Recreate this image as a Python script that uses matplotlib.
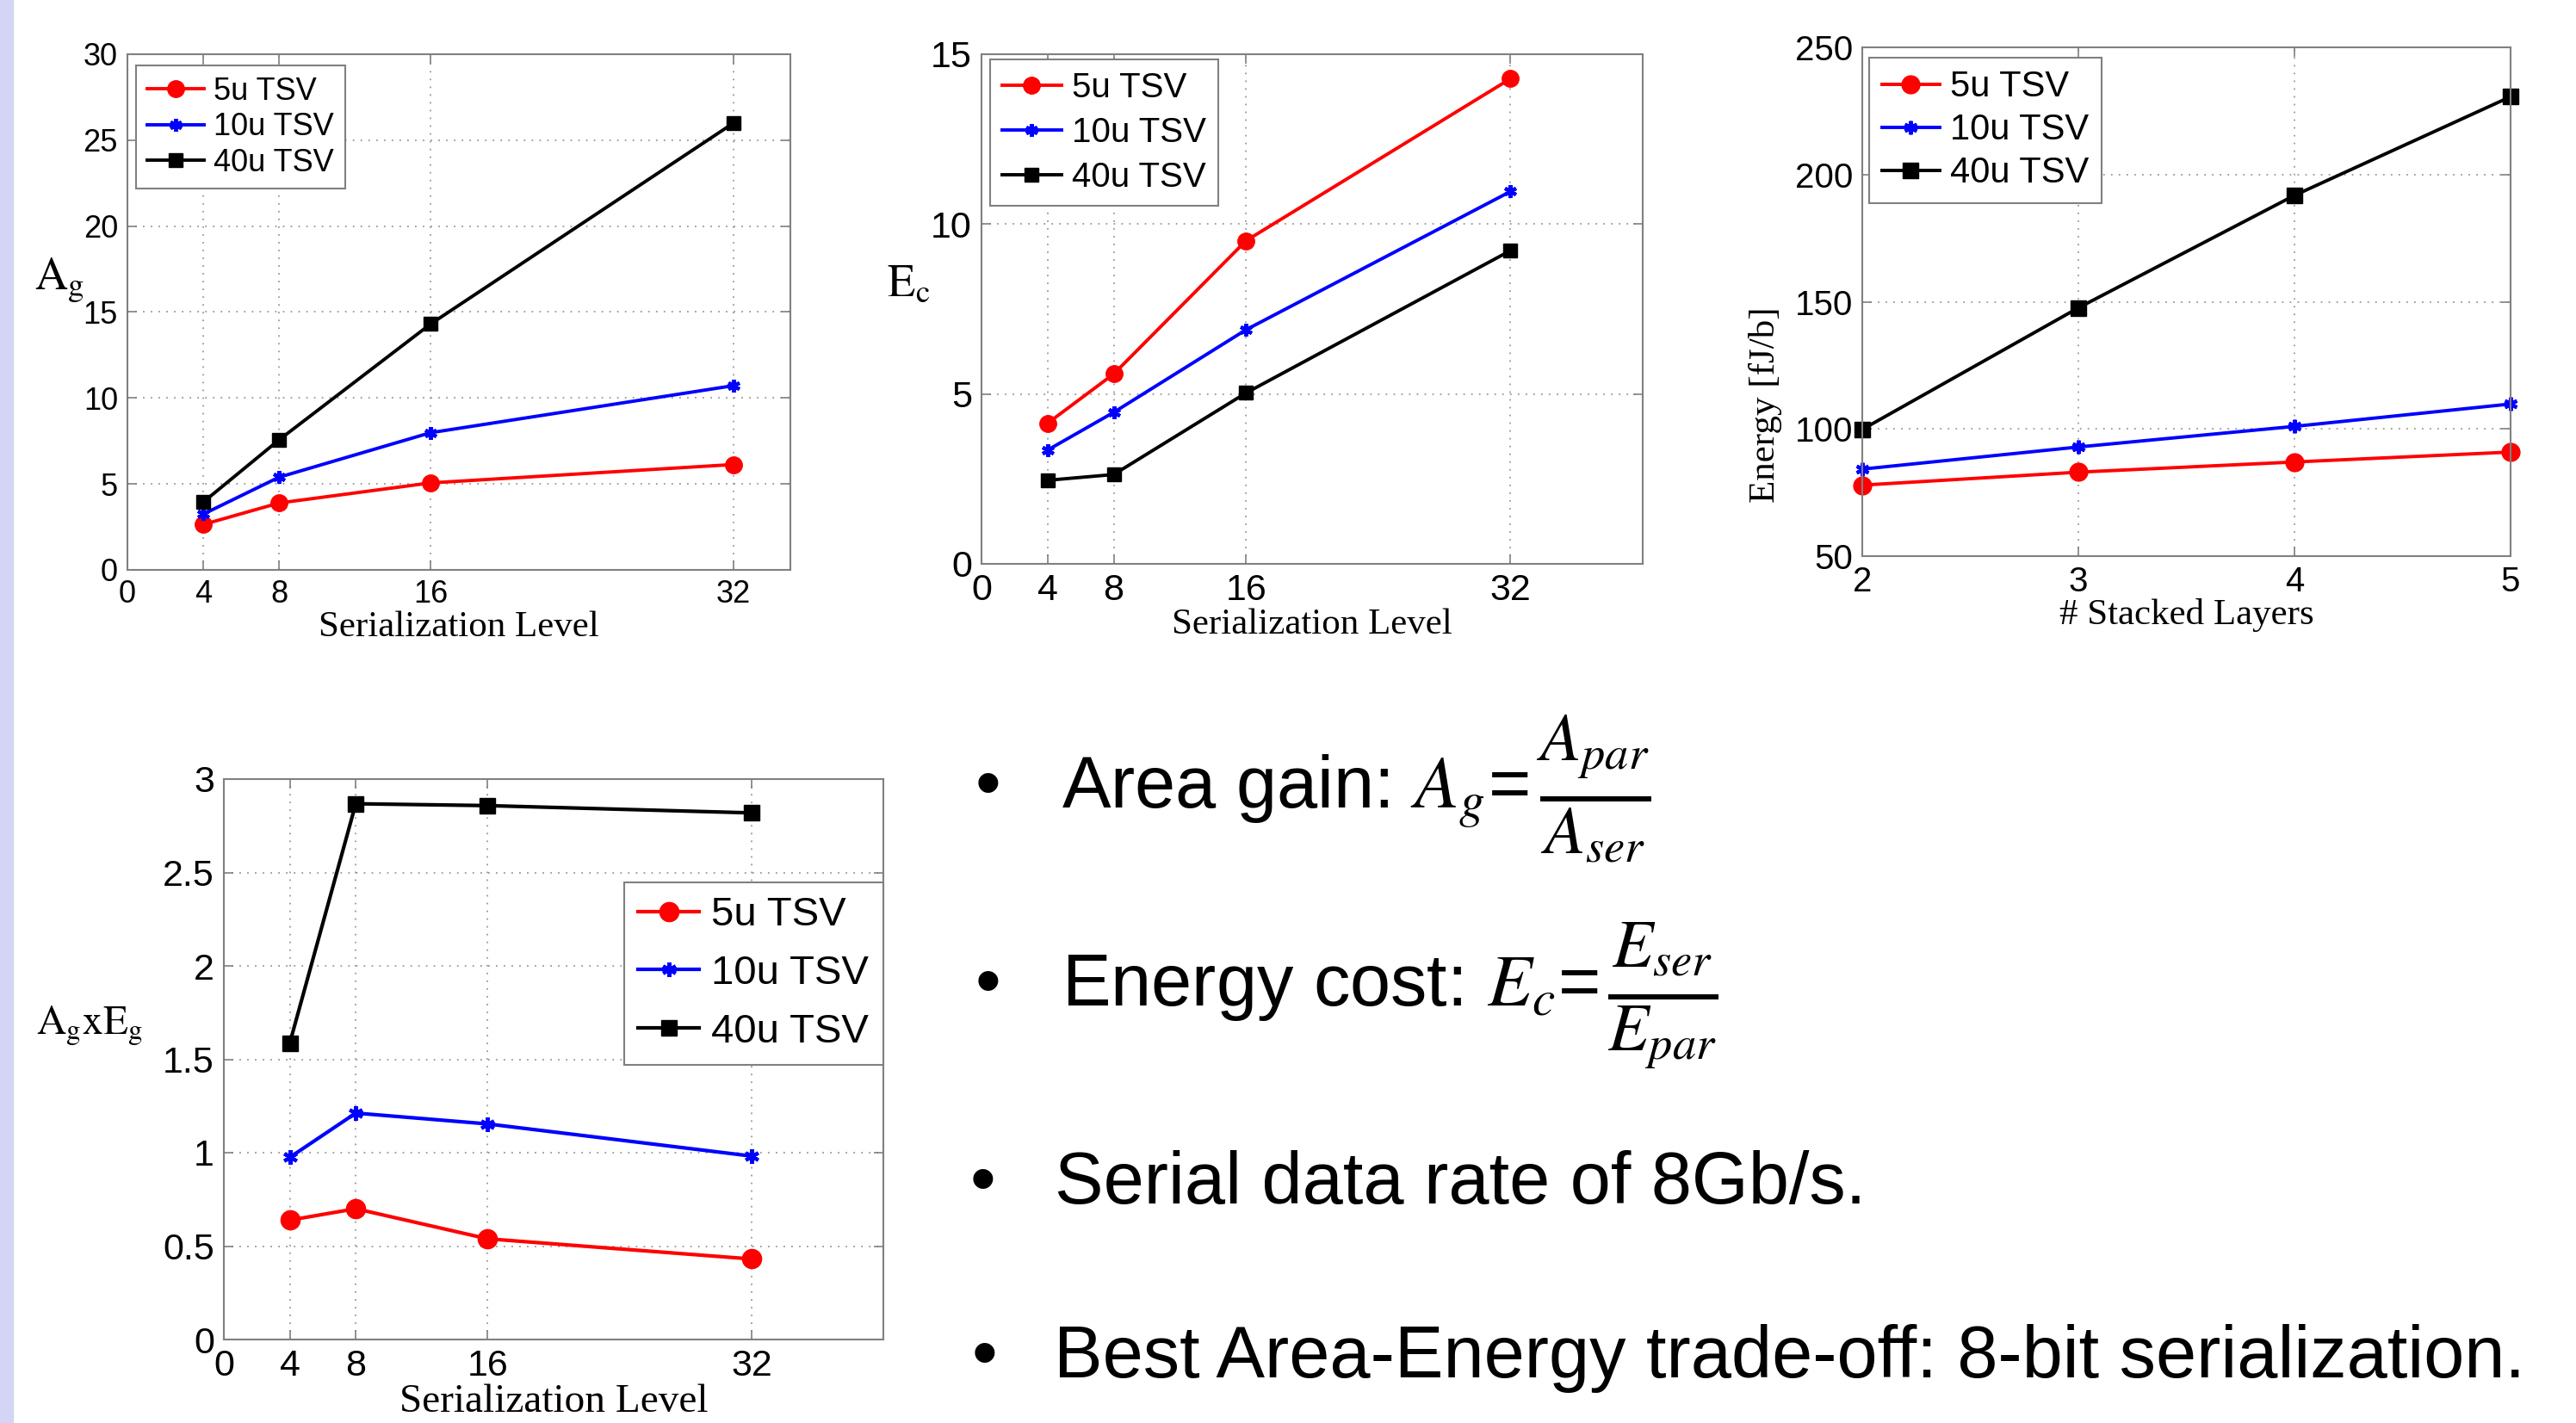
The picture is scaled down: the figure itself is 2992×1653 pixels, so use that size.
import matplotlib
matplotlib.use("Agg")
import matplotlib.pyplot as plt
from matplotlib.patches import Rectangle

plt.rcParams['font.family'] = ['Liberation Sans', 'DejaVu Sans']
plt.rcParams['mathtext.fontset'] = 'stix'

# Serialization sweep (area gain, energy cost, product)
ser_levels = [4, 8, 16, 32]
tsv_labels = ['5u TSV', '10u TSV', '40u TSV']

area_gain_5u = [2.64, 3.89, 5.06, 6.13]
area_gain_10u = [3.24, 5.39, 7.98, 10.72]
area_gain_40u = [3.94, 7.56, 14.3, 26.0]

energy_cost_5u = [4.14, 5.59, 9.51, 14.28]
energy_cost_10u = [3.35, 4.46, 6.89, 10.96]
energy_cost_40u = [2.46, 2.63, 5.03, 9.22]

agxeg_5u = [0.639, 0.700, 0.539, 0.431]
agxeg_10u = [0.975, 1.212, 1.154, 0.982]
agxeg_40u = [1.587, 2.868, 2.858, 2.819]

# Stacked layers sweep
layers = [2, 3, 4, 5]
energy_5u = [77.9, 83.0, 87.0, 90.9]
energy_10u = [84.2, 92.9, 101.0, 109.8]
energy_40u = [99.8, 147.6, 191.8, 230.6]

# bullet text: plain part and (optional) fraction part
bullet_text = [
    r'Area gain: $A_g$=',
    r'Energy cost: $E_c$=',
    'Serial data rate of 8Gb/s.',
    'Best Area-Energy trade-off: 8-bit serialization.',
]
bullet_frac = [
    r'$\frac{A_{par}}{A_{ser}}$',
    r'$\frac{E_{ser}}{E_{par}}$',
    None,
    None,
]

W, H = 2992, 1653
fig = plt.figure(figsize=(W / 100, H / 100), dpi=100)
fig.patch.set_facecolor('white')

# thin lavender strip on the slide's left edge
fig.add_artist(Rectangle((0, 0), 15 / W, 1, transform=fig.transFigure,
                         color='#d4d4f4', zorder=0))


def px_axes(left, top, right, bottom):
    # axes box given in pixel coordinates of the slide
    return fig.add_axes([left / W, 1 - bottom / H, (right - left) / W, (bottom - top) / H])


def matlab_style(ax, tick_size):
    for s in ax.spines.values():
        s.set_color('#808080')
        s.set_linewidth(1.5)
    ax.tick_params(direction='in', top=True, right=True, length=8, width=1.2,
                   color='#808080', labelsize=tick_size, pad=8)
    ax.grid(True, color='#999999', linestyle=(0, (1, 4)), linewidth=1.3)
    ax.set_axisbelow(True)


def draw_series(ax, x, ys, ms, lw=2.8):
    # MATLAB-like markers: filled circle, asterisk, filled square
    styles = [('red', 'o', ms, 1), ('blue', (6, 2, 0), ms * 0.75, 3), ('black', 's', ms * 0.85, 1)]
    for y, lab, (c, m, s, mew) in zip(ys, tsv_labels, styles):
        ax.plot(x, y, color=c, marker=m, markersize=s, linewidth=lw, label=lab,
                markeredgecolor=c, markeredgewidth=mew, clip_on=False)


def add_legend(ax, anchor, size, hl=1.7, spacing=0.3):
    leg = ax.legend(loc='upper left', bbox_to_anchor=anchor, fontsize=size,
                    frameon=True, fancybox=False, edgecolor='#808080', framealpha=1,
                    handlelength=hl, handletextpad=0.3, labelspacing=spacing,
                    borderpad=0.35, borderaxespad=0)
    leg.get_frame().set_linewidth(1.5)


serif = 'Liberation Serif'

# ---- chart 1: area gain ----
ax1 = px_axes(148, 63, 918, 662)
draw_series(ax1, ser_levels, [area_gain_5u, area_gain_10u, area_gain_40u], 14)
ax1.set_xlim(0, 35)
ax1.set_ylim(0, 30)
ax1.set_xticks([0] + ser_levels)
ax1.set_yticks(range(0, 31, 5))
matlab_style(ax1, 26)
ax1.set_xlabel('Serialization Level', family=serif, fontsize=31, labelpad=1)
ax1.set_ylabel(r'$\mathrm{A}_\mathrm{g}$', fontsize=38, rotation=0, ha='left', va='baseline')
ax1.yaxis.set_label_coords(-0.140, 0.545)
add_legend(ax1, (0.013, 0.978), 26, hl=1.85, spacing=0.18)

# ---- chart 2: energy cost ----
ax2 = px_axes(1140, 63, 1908, 655)
draw_series(ax2, ser_levels, [energy_cost_5u, energy_cost_10u, energy_cost_40u], 14)
ax2.set_xlim(0, 40)
ax2.set_ylim(0, 15)
ax2.set_xticks([0] + ser_levels)
ax2.set_yticks([0, 5, 10, 15])
matlab_style(ax2, 31)
ax2.set_xlabel('Serialization Level', family=serif, fontsize=31, labelpad=0)
ax2.set_ylabel(r'$\mathrm{E}_\mathrm{c}$', fontsize=38, rotation=0, ha='left', va='baseline')
ax2.yaxis.set_label_coords(-0.143, 0.525)
add_legend(ax2, (0.013, 0.99), 29, spacing=0.35)

# ---- chart 3: energy vs stacked layers ----
ax3 = px_axes(2163, 55, 2916, 646)
draw_series(ax3, layers, [energy_5u, energy_10u, energy_40u], 15)
ax3.set_xlim(2, 5)
ax3.set_ylim(50, 250)
ax3.set_xticks(layers)
ax3.set_yticks(range(50, 251, 50))
matlab_style(ax3, 29)
ax3.set_xlabel('# Stacked Layers', family=serif, fontsize=31, labelpad=0)
ax3.set_ylabel('Energy [fJ/b]', family=serif, fontsize=31, ha='center', va='center')
ax3.yaxis.set_label_coords(-0.149, 0.298)
add_legend(ax3, (0.011, 0.98), 30, hl=1.6, spacing=0.24)

# ---- chart 4: area gain x energy ----
ax4 = px_axes(260, 905, 1026, 1556)
draw_series(ax4, ser_levels, [agxeg_5u, agxeg_10u, agxeg_40u], 16, lw=3.0)
ax4.set_xlim(0, 40)
ax4.set_ylim(0, 3)
ax4.set_xticks([0] + ser_levels)
ax4.set_yticks([0, 0.5, 1, 1.5, 2, 2.5, 3])
ax4.set_yticklabels(['0', '0.5', '1', '1.5', '2', '2.5', '3'])
matlab_style(ax4, 31)
ax4.set_xlabel('Serialization Level', family=serif, fontsize=34, labelpad=0)
ax4.set_ylabel(r'$\mathrm{A_g x E_g}$', fontsize=34, rotation=0, ha='left', va='baseline')
ax4.yaxis.set_label_coords(-0.285, 0.545)
add_legend(ax4, (0.607, 0.816), 34, hl=1.5, spacing=0.5)

# ---- bullet text on the right ----
renderer = fig.canvas.get_renderer()
bullet_x = [1147, 1147, 1141, 1143]
text_x = [1233, 1233, 1225, 1224]
baselines = [938, 1168, 1398, 1600]
for bx, tx, by, line, frac in zip(bullet_x, text_x, baselines, bullet_text, bullet_frac):
    fig.text(bx / W, 1 - by / H, '\u2022', fontsize=61, ha='center', va='baseline')
    t = fig.text(tx / W, 1 - by / H, line, fontsize=61, ha='left', va='baseline')
    if frac is not None:
        # fraction drawn a bit larger so its parts match the slide equation
        end_x = t.get_window_extent(renderer).x1 + 10
        fig.text(end_x / W, 1 - (by + 8) / H, frac, fontsize=80, ha='left', va='baseline')

fig.savefig('out.png', dpi=100)
